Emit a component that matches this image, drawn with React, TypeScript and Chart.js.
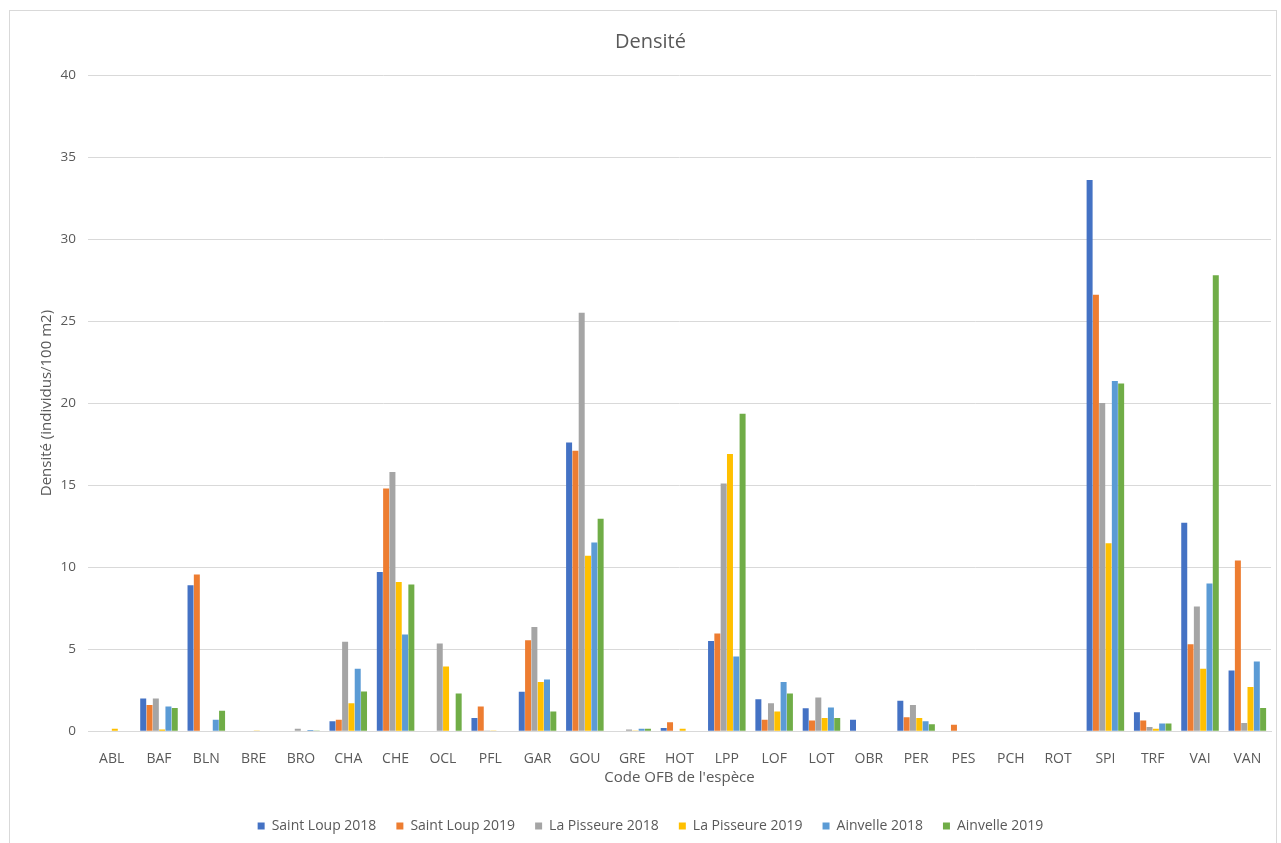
import React, { useEffect, useRef } from "react";
import { Chart, registerables } from "chart.js";

Chart.register(...registerables);

const categories = ["ABL","BAF","BLN","BRE","BRO","CHA","CHE","OCL","PFL","GAR","GOU","GRE","HOT","LPP","LOF","LOT","OBR","PER","PES","PCH","ROT","SPI","TRF","VAI","VAN"];

const saintLoup2018 = [0,2.0,8.9,0,0,0.6,9.7,0,0.8,2.4,17.6,0,0.2,5.5,1.95,1.4,0.7,1.85,0,0,0,33.6,1.15,12.7,3.7];
const saintLoup2019 = [0,1.6,9.55,0,0.03,0.7,14.8,0,1.5,5.55,17.1,0,0.55,5.95,0.7,0.65,0,0.85,0.4,0,0,26.6,0.65,5.3,10.4];
const laPisseure2018 = [0,2.0,0,0.03,0.15,5.45,15.8,5.35,0.05,6.35,25.5,0.1,0,15.1,1.7,2.05,0,1.6,0,0,0,20.0,0.25,7.6,0.5];
const laPisseure2019 = [0.15,0.1,0,0.05,0.03,1.7,9.1,3.95,0.05,3.0,10.7,0.05,0.15,16.9,1.2,0.8,0,0.8,0,0,0,11.45,0.15,3.8,2.7];
const ainvelle2018 = [0,1.5,0.7,0,0.08,3.8,5.9,0,0,3.15,11.5,0.15,0,4.55,3.0,1.45,0,0.6,0,0,0,21.35,0.47,9.0,4.25];
const ainvelle2019 = [0,1.42,1.25,0,0.05,2.42,8.95,2.3,0,1.2,12.95,0.15,0,19.35,2.3,0.8,0,0.43,0,0,0,21.2,0.47,27.8,1.42];

const seriesNames = ["Saint Loup 2018","Saint Loup 2019","La Pisseure 2018","La Pisseure 2019","Ainvelle 2018","Ainvelle 2019"];
const seriesColors = ["#4472C4","#ED7D31","#A5A5A5","#FFC000","#5B9BD5","#70AD47"];
const seriesValues = [saintLoup2018, saintLoup2019, laPisseure2018, laPisseure2019, ainvelle2018, ainvelle2019];

const FONT = "'Open Sans', 'Noto Sans', sans-serif";
const TEXT = "#595959";

export default function App() {
  const ref = useRef<HTMLCanvasElement>(null);
  useEffect(() => {
    document.body.style.margin = "0";
    const ctx = ref.current!;
    const chart = new Chart(ctx, {
      type: "bar",
      data: {
        labels: categories,
        datasets: seriesValues.map((vals, i) => ({
          label: seriesNames[i],
          data: vals,
          backgroundColor: seriesColors[i],
          borderWidth: 0,
          categoryPercentage: 0.8,
          barPercentage: 0.95,
        })),
      },
      options: {
        animation: false,
        responsive: false,
        maintainAspectRatio: false,
        layout: { padding: { left: 30, right: 10, top: 30, bottom: 0 } },
        plugins: {
          title: {
            display: true,
            text: "Densité",
            color: TEXT,
            font: { family: FONT, size: 20, weight: "normal" },
            padding: { top: 0, bottom: 21 },
          },
          legend: {
            position: "bottom",
            labels: {
              color: TEXT,
              font: { family: FONT, size: 14 },
              boxWidth: 7,
              boxHeight: 7,
              padding: 20,
            },
          },
          tooltip: { enabled: false },
        },
        scales: {
          x: {
            grid: { display: false },
            border: { color: "#d9d9d9" },
            ticks: { color: TEXT, font: { family: FONT, size: 14 }, maxRotation: 0, autoSkip: false, padding: 11 },
            title: {
              display: true,
              text: "Code OFB de l'espèce",
              color: TEXT,
              font: { family: FONT, size: 15 },
              padding: { top: -9, bottom: 12 },
            },
          },
          y: {
            min: 0,
            max: 40,
            ticks: { stepSize: 5, color: TEXT, font: { family: FONT, size: 13.5 }, padding: 12 },
            grid: { color: "#d9d9d9", drawTicks: false },
            border: { display: false },
            title: {
              display: true,
              text: "Densité (individus/100 m2)",
              color: TEXT,
              font: { family: FONT, size: 15 },
              padding: { top: 8, bottom: 0 },
            },
            afterFit: (s: any) => { s.width = 58; },
          },
        },
      },
    });
    return () => chart.destroy();
  }, []);
  return (
    <div style={{ position: "relative", width: 1281, height: 843, background: "#fff", overflow: "hidden" }}>
      <div style={{ position: "absolute", left: 9, top: 10, width: 1268, height: 850, border: "1px solid #d9d9d9", boxSizing: "border-box" }} />
      <canvas ref={ref} width={1281} height={843} style={{ position: "absolute", left: 0, top: 0, width: 1281, height: 843 }} />
    </div>
  );
}
